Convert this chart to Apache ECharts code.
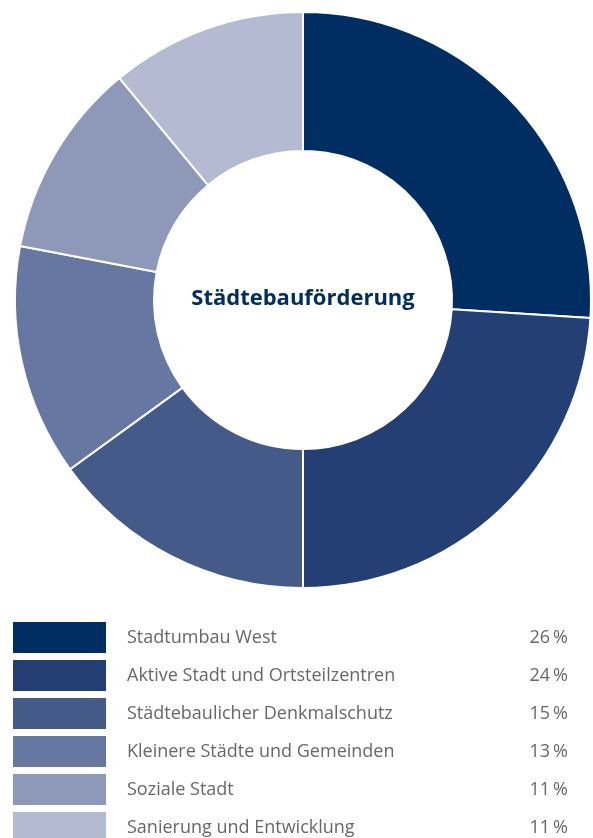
<!DOCTYPE html>
<html><head><meta charset="utf-8">
<script src="https://cdn.jsdelivr.net/npm/echarts@6/dist/echarts.min.js"></script>
<style>html,body{margin:0;padding:0;background:#fff;}#c{width:593px;height:838px;}</style>
</head><body><div id="c"></div>
<script>
const categories = ["Stadtumbau West","Aktive Stadt und Ortsteilzentren","Städtebaulicher Denkmalschutz","Kleinere Städte und Gemeinden","Soziale Stadt","Sanierung und Entwicklung"];
const shares = [26, 24, 15, 13, 11, 11];
const colors = ["#012e62","#233f73","#445a89","#6677a1","#8e99b9","#b5bad3"];
const centerTitle = "Städtebauförderung";

const chart = echarts.init(document.getElementById('c'), null, {renderer:'canvas'});
const data = categories.map((n,i)=>({name:n, value:shares[i], itemStyle:{color:colors[i]}}));
const txt = {fontFamily:'Open Sans', fontSize:18, lineHeight:22, color:'#676767'};
chart.setOption({
  animation:false,
  title:{text:centerTitle, left:303, top:288, textAlign:'center', padding:0,
    textStyle:{fontFamily:'Open Sans', fontWeight:'bold', fontSize:22, color:'#012e62'}},
  legend:{orient:'vertical', left:13, top:622, height:400, padding:0,
    itemWidth:93, itemHeight:31, itemGap:7,
    icon:'rect', selectedMode:false,
    itemStyle:{borderWidth:0},
    formatter: name => { const i = categories.indexOf(name); return '{n|'+name+'}{p|'+shares[i]+'\u2009%}'; },
    textStyle:Object.assign({}, txt, {
      rich:{n:Object.assign({width:381, padding:[0,0,0,16]}, txt),
            p:Object.assign({width:60, align:'right'}, txt)}})},
  series:[{type:'pie', center:[303,300], radius:[149,288], startAngle:90, clockwise:true,
    label:{show:false}, labelLine:{show:false}, emphasis:{disabled:true},
    itemStyle:{borderColor:'#fff', borderWidth:2}, data}]
});
</script></body></html>
